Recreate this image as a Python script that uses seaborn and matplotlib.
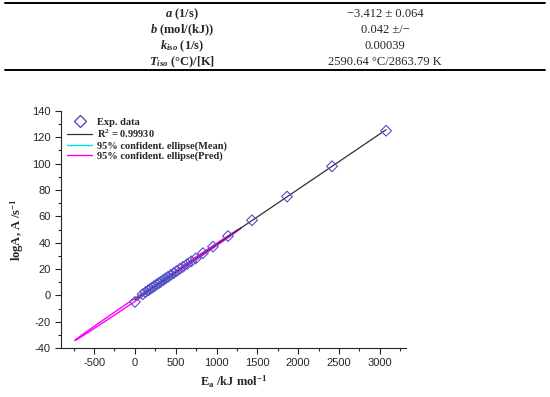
import numpy as np
import matplotlib
matplotlib.use("Agg")
import matplotlib.pyplot as plt
import seaborn as sns
from matplotlib.lines import Line2D
from matplotlib.ticker import MultipleLocator

# Table values
param_names = [r"$a$ (1/s)", r"$b$ (mol/(kJ))", r"$k_{iso}$ (1/s)", r"$T_{iso}$ (°C)/[K]"]
param_values = ["\u22123.412 \u00b1 0.064", "0.042 \u00b1/\u2212", "0.00039", "2590.64 \u00b0C/2863.79 K"]

Ea = [0, 95, 130, 165, 190, 215, 240, 265, 290, 315, 345, 375, 405, 440, 475,
      510, 550, 590, 640, 690, 745, 833, 956, 1140, 1434, 1863, 2414, 3076]
logA = [-5.0, 0.8, 2.4, 3.9, 5.0, 6.0, 7.1, 8.2, 9.2, 10.2, 11.5, 12.8, 14.0, 15.5, 16.9,
        18.4, 20.1, 21.7, 23.8, 25.8, 28.0, 32.0, 37.0, 45.0, 57.0, 75.0, 98.0, 125.0]

# Fit parameters (from table) and ellipse parameters
fit_a = -3.412
fit_b = 0.042
ell_center = 282
mean_ell = (260, 0.6)     # half-length along x, half-width in y
pred_ell = (1018, 1.3)

sns.set_style("ticks")
plt.rcParams["axes.unicode_minus"] = False
plt.rcParams["mathtext.fontset"] = "custom"
plt.rcParams["mathtext.rm"] = "Liberation Serif:bold"
plt.rcParams["mathtext.bf"] = "Liberation Serif:bold"
plt.rcParams["mathtext.it"] = "Liberation Serif:bold:italic"

fig = plt.figure(figsize=(5.5, 3.97), dpi=100)
fig.patch.set_facecolor("white")

# Table at top
W, H = 550.0, 397.0
fig.add_artist(Line2D([5 / W, 545 / W], [1 - 3 / H, 1 - 3 / H], color="black", lw=1.4))
fig.add_artist(Line2D([5 / W, 545 / W], [1 - 70 / H, 1 - 70 / H], color="black", lw=1.4))
for i, (n, v) in enumerate(zip(param_names, param_values)):
    yy = 1 - (14 + 16 * i) / H
    fig.text(182 / W, yy, n, ha="center", va="center", fontsize=9,
             family="Liberation Serif", fontweight="bold")
    fig.text(385 / W, yy, v, ha="center", va="center", fontsize=9,
             family="Liberation Serif")

ax = fig.add_axes([61 / W, 49 / H, 345 / W, 237 / H])

# Ellipses
t = np.linspace(0, 2 * np.pi, 300)
cy = fit_a + fit_b * ell_center
for (A, B), col in [(pred_ell, "#ff00ff"), (mean_ell, "#00e5e5")]:
    ex = ell_center + A * np.cos(t)
    ey = cy + fit_b * A * np.cos(t) + B * np.sin(t)
    sns.lineplot(x=ex, y=ey, sort=False, estimator=None, color=col, lw=1.0, ax=ax)

# Fit line
fx = np.array([min(Ea), max(Ea)])
sns.lineplot(x=fx, y=fit_a + fit_b * fx, color="#303030", lw=0.9, ax=ax)

# Data
sns.scatterplot(x=Ea, y=logA, marker="D", s=30, facecolor="none",
                edgecolor="#5050c8", linewidth=0.8, ax=ax, zorder=5)

ax.set_xlim(-905, 3320)
ax.set_ylim(-40, 140)
ax.xaxis.set_major_locator(MultipleLocator(500))
ax.xaxis.set_minor_locator(MultipleLocator(250))
ax.yaxis.set_major_locator(MultipleLocator(20))
ax.yaxis.set_minor_locator(MultipleLocator(10))
ax.tick_params(which="major", length=4, width=0.8, labelsize=8)
ax.tick_params(which="minor", length=2, width=0.8)
for lab in ax.get_xticklabels() + ax.get_yticklabels():
    lab.set_family("Liberation Sans")
sns.despine(ax=ax)

ax.set_xlabel(r"E$_\mathrm{a}$ /kJ mol$^{-1}$", family="Liberation Serif",
              fontweight="bold", fontsize=9)
ax.set_ylabel(r"logA, A /s$^{-1}$", family="Liberation Serif",
              fontweight="bold", fontsize=9)

handles = [
    Line2D([], [], marker="D", ls="none", mfc="none", mec="#5050c8", ms=6),
    Line2D([], [], color="#303030", lw=0.9),
    Line2D([], [], color="#00e5e5", lw=1.0),
    Line2D([], [], color="#ff00ff", lw=1.0),
]
labels = ["Exp. data", r"R$^2$ = 0.99930", "95% confident. ellipse(Mean)",
          "95% confident. ellipse(Pred)"]
ax.legend(handles, labels, loc="upper left", frameon=False,
          prop={"family": "Liberation Serif", "weight": "bold", "size": 7.5},
          handlelength=2.4, labelspacing=0.1, borderaxespad=0.2, handletextpad=0.5)

fig.savefig("out.png", dpi=100)
